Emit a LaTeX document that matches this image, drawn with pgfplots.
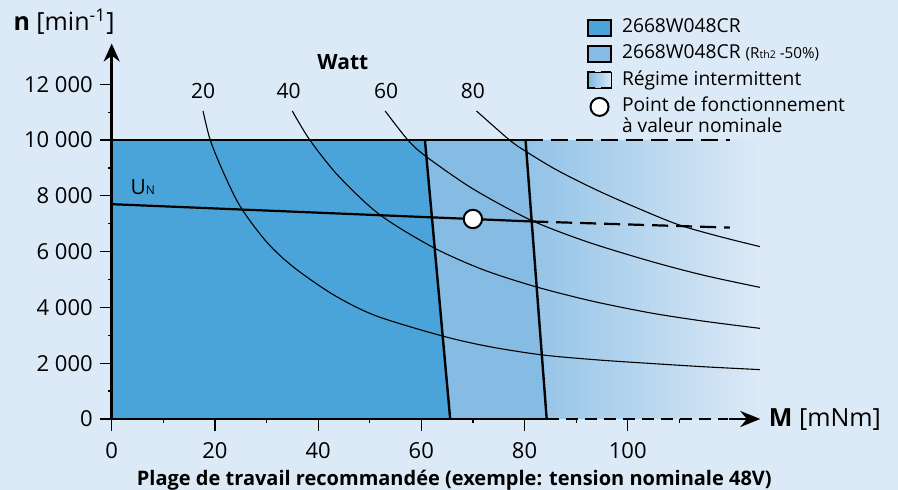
\documentclass[border=0pt]{standalone}
\usepackage{fontspec}
\setmainfont{Open Sans}
\usepackage{pgfplots}
\pgfplotsset{compat=1.18}
\usetikzlibrary{arrows.meta}
\definecolor{bg}{HTML}{DCE9F6}
\definecolor{dark}{HTML}{4AA4D9}
\definecolor{light}{HTML}{86BBE3}
\definecolor{gradL}{HTML}{92C3E7}
\begin{document}
\begin{tikzpicture}
\fill[bg] (0,0) rectangle (449pt,245pt);
\useasboundingbox (0,0) rectangle (449pt,245pt);
\begin{axis}[
  at={(55.85pt,35.5pt)}, anchor=south west,
  scale only axis, width=335.4pt, height=188.3pt,
  xmin=0, xmax=130, ymin=0, ymax=13500,
  clip=false, scaled y ticks=false, scaled x ticks=false,
  axis lines=left, axis line style={draw=none},
  tick align=outside,
  major tick length=6pt, minor tick length=1.8pt,
  tick style={black, line width=0.6pt},
  xtick={0,20,40,60,80,100}, xticklabels={0,20,40,60,80,100},
  minor xtick={10,30,50,70,90,110},
  ytick={0,2000,4000,6000,8000,10000,12000},
  yticklabels={0,2 000,4 000,6 000,8 000,10 000,12 000},
  minor ytick={1000,3000,5000,7000,9000,11000},
  ticklabel style={font=\fontsize{11}{12}\selectfont, inner sep=0pt},
  xticklabel style={anchor=north, yshift=-5.5pt},
  yticklabel style={anchor=east, xshift=-3.3pt},
  legend style={at={(axis description cs:0.7086,1.064)}, anchor=north west,
    draw=none, fill=none, inner sep=0pt, outer sep=0pt,
    font=\fontsize{9.6}{9.7}\selectfont, row sep=3.6pt, column sep=5pt,
    nodes={inner sep=0pt, text height=7.2pt, text depth=2.3pt},
    cells={anchor=west}},
]
% legend images
\addlegendimage{legend image code/.code={\draw[fill=dark, draw=black, line width=1pt] (0pt,-4pt) rectangle (11.5pt,4pt);}}
\addlegendentry{2668W048CR}
\addlegendimage{legend image code/.code={\draw[fill=light, draw=black, line width=1pt] (0pt,-4pt) rectangle (11.5pt,4pt);}}
\addlegendentry{2668W048CR {\fontsize{7.6}{8}\selectfont (R{\fontsize{5.3}{5}\selectfont th2} -50\%)}}
\addlegendimage{legend image code/.code={\shade[left color=gradL!70!dark, right color=bg] (0pt,-4pt) rectangle (11.5pt,4pt);
  \draw[line width=1pt] (3.3pt,4pt) -- (0pt,4pt) -- (0pt,-4pt) -- (3.3pt,-4pt);
  \draw[line width=1pt] (6.3pt,4pt) -- (11.5pt,4pt) (6.3pt,-4pt) -- (11.5pt,-4pt);}}
\addlegendentry{Régime intermittent}
\addlegendimage{legend image code/.code={\draw[fill=white, draw=black, line width=1pt] (5.75pt,0pt) circle (4.5pt);}}
\addlegendentry{\smash{\begin{tabular}[t]{@{}l@{}}Point de fonctionnement\\à valeur nominale\end{tabular}}}

% regions
\addplot[draw=none, fill=dark] coordinates {(0,0)(0,10000)(60.7,10000)(65.6,0)} -- cycle;
\addplot[draw=none, fill=light] coordinates {(60.7,10000)(80.2,10000)(84.3,0)(65.6,0)} -- cycle;
\addplot[draw=none, left color=gradL, right color=bg] coordinates {(80.2,10000)(125,10000)(125,0)(84.3,0)} -- cycle;

% power curves
\addplot[black, line width=0.55pt, smooth] coordinates {(17.7,11040)(19.1,10000)(21.5,8900)(24.9,7620)(30,6350)(35.2,5450)(43,4450)(51.2,3700)(64,2980)(73,2600)(83.3,2300)(94,2120)(104.5,1990)(115,1870)(125.6,1770)};
\addplot[black, line width=0.55pt, smooth] coordinates {(35,11040)(38.4,10000)(44,8700)(51.9,7330)(62.2,6160)(72,5350)(82.2,4740)(93,4230)(104.5,3800)(115,3500)(125.6,3250)};
\addplot[black, line width=0.55pt, smooth] coordinates {(53,11040)(57.4,10000)(61,9400)(70,8250)(81.1,7140)(92,6360)(104.5,5650)(115,5140)(125.6,4720)};
\addplot[black, line width=0.55pt, smooth] coordinates {(70.7,11040)(77.1,10000)(80.2,9600)(86,8950)(93.5,8250)(101,7630)(109.6,6980)(117,6580)(125.6,6180)};

% U_N line
\addplot[black, line width=1.1pt] coordinates {(0,7700)(81.5,7080)};
\addplot[black, line width=1.1pt, dash pattern=on 8pt off 4pt] coordinates {(81.5,7080)(119.8,6860)};

% limit lines
\addplot[black, line width=1.2pt] coordinates {(60.7,10000)(65.6,0)};
\addplot[black, line width=1.2pt] coordinates {(80.2,10000)(84.3,0)};
\addplot[black, line width=1.3pt] coordinates {(0,10000)(80.2,10000)};
\addplot[black, line width=1.3pt, dash pattern=on 8.5pt off 4pt] coordinates {(80.2,10000)(119.9,10000)};

% axes
\addplot[black, line width=1.4pt] coordinates {(0,0)(84.3,0)};
\addplot[black, line width=1.3pt, dash pattern=on 6pt off 3.5pt] coordinates {(84.3,0)(119.5,0)};
\addplot[black, line width=1.3pt, -{Stealth[length=10pt, width=8pt]}] coordinates {(119.6,0)(125.7,0)};
\addplot[black, line width=1.4pt, -{Stealth[length=9pt, width=8pt]}] coordinates {(0,0)(0,13460)};

% operating point
\addplot[only marks, mark=*, mark size=4.6pt, mark options={fill=white, draw=black, line width=1pt}] coordinates {(70,7170)};

% texts
\node[anchor=base west, font=\fontsize{10.5}{12}\selectfont, inner sep=0pt] at (axis cs:3.6,8060) {U{\fontsize{6}{7}\selectfont N}};
\node[font=\fontsize{10.5}{12}\selectfont] at (axis cs:17.7,11740) {20};
\node[font=\fontsize{10.5}{12}\selectfont] at (axis cs:34.3,11740) {40};
\node[font=\fontsize{10.5}{12}\selectfont] at (axis cs:53.2,11740) {60};
\node[font=\fontsize{10.5}{12}\selectfont] at (axis cs:70.0,11740) {80};
\node[font=\bfseries\fontsize{10.5}{12}\selectfont] at (axis cs:44.8,12800) {Watt};
\node[anchor=west, font=\fontsize{12.5}{14}\selectfont, inner sep=0pt] at (axis cs:-19.1,14230) {\textbf{n} [min\textsuperscript{-1}]};
\node[anchor=base west, font=\fontsize{12.5}{14}\selectfont, inner sep=0pt] at (axis cs:127.3,-276) {\textbf{M} [mNm]};
\node[anchor=base, font=\bfseries\fontsize{10}{11}\selectfont, inner sep=0pt] at (axis cs:66.4,-2400) {Plage de travail recommandée (exemple: tension nominale 48V)};
\end{axis}
\end{tikzpicture}
\end{document}
